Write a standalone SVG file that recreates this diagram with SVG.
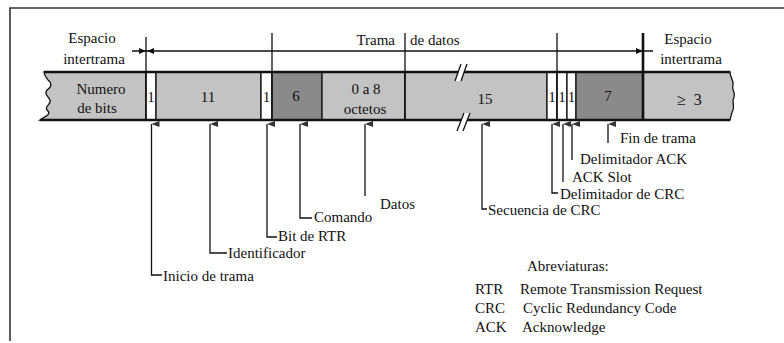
<svg xmlns="http://www.w3.org/2000/svg" width="784" height="343" viewBox="0 0 784 343">
<defs>
<style>
text{font-family:"Liberation Serif","Times New Roman",serif;font-size:15px;fill:#111}
.c{text-anchor:middle}
.ln{stroke:#111;stroke-width:1.3;fill:none}
.lt{fill:#c3c3c3;stroke:#111;stroke-width:1.3}
.dk{fill:#8a8a8a;stroke:#111;stroke-width:1.3}
.wh{fill:#fff;stroke:#111;stroke-width:1.3}
</style>
<marker id="up" viewBox="0 0 6 8" refX="3" refY="0" markerWidth="6" markerHeight="8" orient="auto-start-reverse" markerUnits="userSpaceOnUse">
<path d="M0,8 L3,0 L6,8 Z" fill="#333"/>
</marker>
</defs>
<rect width="784" height="343" fill="#fff"/>
<g id="border"><path d="M10,341 L10,8 L784,8" fill="none" stroke="#333" stroke-width="1.6"/></g>

<g id="bar">
<path id="f-numero" class="lt" d="M44,72 L146,72 L146,120 L40,120 C46,116 52,114 47,110 C44,106 52,104 50,100 C48,96 44,94 47,90 C52,87 52,83 48,80 C46,77 44,75 44,72 Z"/>
<path id="f-end" class="lt" d="M643,72 L730,72 C730,78 734,80 733,85 C731,90 736,92 734,97 C731,102 735,105 733,110 C731,114 731,117 730,120 L643,120 Z"/>
<rect id="f-sof" class="wh" x="146" y="72" width="10" height="48"/>
<rect id="f-id" class="lt" x="156" y="72" width="105" height="48"/>
<rect id="f-rtr" class="wh" x="261" y="72" width="11" height="48"/>
<rect id="f-cmd" class="dk" x="272" y="72" width="50" height="48"/>
<rect id="f-data" class="lt" x="322" y="72" width="83" height="48"/>
<rect id="f-crc" class="lt" x="405" y="72" width="142" height="48"/>
<rect id="f-dcrc" class="wh" x="547" y="72" width="10" height="48"/>
<rect id="f-ack" class="wh" x="557" y="72" width="10" height="48"/>
<rect id="f-dack" class="wh" x="567" y="72" width="9" height="48"/>
<rect id="f-eof" class="dk" x="576" y="72" width="67" height="48"/>
<path d="M44,72 L730,72 M40,120 L730,120" stroke="#111" stroke-width="2.4" fill="none"/>
<path d="M146,37 L146,120 M272,33 L272,120 M405,33 L405,120 M557,33 L557,120" class="ln" stroke-width="1.6"/>
<path d="M643,33 L643,121" stroke="#111" stroke-width="2.6"/>
<g id="breaks">
<path d="M455,81 L461,64 L467,64 L461,81 Z" fill="#fff"/>
<path d="M455,81 L461,64 M461,81 L467,64" class="ln"/>
<path d="M457,131 L464,113 L470,113 L463,131 Z" fill="#fff"/>
<path d="M457,131 L464,113 M463,131 L470,113" class="ln"/>
</g>
<text class="c" x="101" y="94">Numero</text>
<text class="c" x="97" y="113">de bits</text>
<text class="c" x="151" y="102">1</text>
<text class="c" x="208" y="102">11</text>
<text class="c" x="266.5" y="102">1</text>
<text class="c" x="296" y="101">6</text>
<text class="c" x="366" y="94">0 a 8</text>
<text class="c" x="365" y="114">octetos</text>
<text class="c" x="485" y="104">15</text>
<text class="c" x="552" y="102">1</text>
<text class="c" x="562" y="102">1</text>
<text class="c" x="571.5" y="102">1</text>
<text class="c" x="608" y="101">7</text>
<text x="677" y="105" style="font-size:16px">≥<tspan dx="8">3</tspan></text>
</g>

<g id="header">
<path d="M132,51 L653,51" class="ln"/>
<path d="M146,51 L139,48 L139,54 Z" fill="#111"/>
<path d="M147,51 L154,48 L154,54 Z" fill="#111"/>
<path d="M643,51 L636,48 L636,54 Z" fill="#111"/>
<text class="c" x="92" y="43">Espacio</text>
<text class="c" x="94" y="64">intertrama</text>
<text x="395" y="45" text-anchor="end">Trama</text>
<text x="410" y="45">de datos</text>
<text class="c" x="688" y="44">Espacio</text>
<text class="c" x="691" y="64">intertrama</text>
</g>

<g id="connectors">
<path class="ln" marker-start="url(#up)" d="M151.5,124 L151.5,275 L162,275"/>
<path class="ln" marker-start="url(#up)" d="M210,124 L210,253 L227,253"/>
<path class="ln" marker-start="url(#up)" d="M267,124 L267,237 L277,237"/>
<path class="ln" marker-start="url(#up)" d="M300,124 L300,218 L312,218"/>
<path class="ln" marker-start="url(#up)" d="M365,124 L365,196"/>
<path class="ln" marker-start="url(#up)" d="M482,124 L482,209 L487,209"/>
<path class="ln" marker-start="url(#up)" d="M552,124 L552,193 L558,193"/>
<path class="ln" marker-start="url(#up)" d="M563,124 L563,182"/>
<path class="ln" marker-start="url(#up)" d="M572,124 L572,160"/>
<path class="ln" marker-start="url(#up)" d="M608,124 L608,143"/>
</g>

<g id="labels">
<text x="163" y="281">Inicio de trama</text>
<text x="228" y="258">Identificador</text>
<text x="278" y="241">Bit de RTR</text>
<text x="314" y="222">Comando</text>
<text x="380" y="209">Datos</text>
<text x="488" y="215">Secuencia de CRC</text>
<text x="560" y="199">Delimitador de CRC</text>
<text x="572" y="182">ACK Slot</text>
<text x="580" y="164">Delimitador ACK</text>
<text x="620" y="143">Fin de trama</text>
</g>

<g id="legend">
<text x="527" y="271">Abreviaturas:</text>
<text x="475" y="294">RTR</text>
<text x="520" y="294">Remote Transmission Request</text>
<text x="475" y="313">CRC</text>
<text x="523" y="313">Cyclic Redundancy Code</text>
<text x="475" y="332">ACK</text>
<text x="522" y="332">Acknowledge</text>
</g>
</svg>
